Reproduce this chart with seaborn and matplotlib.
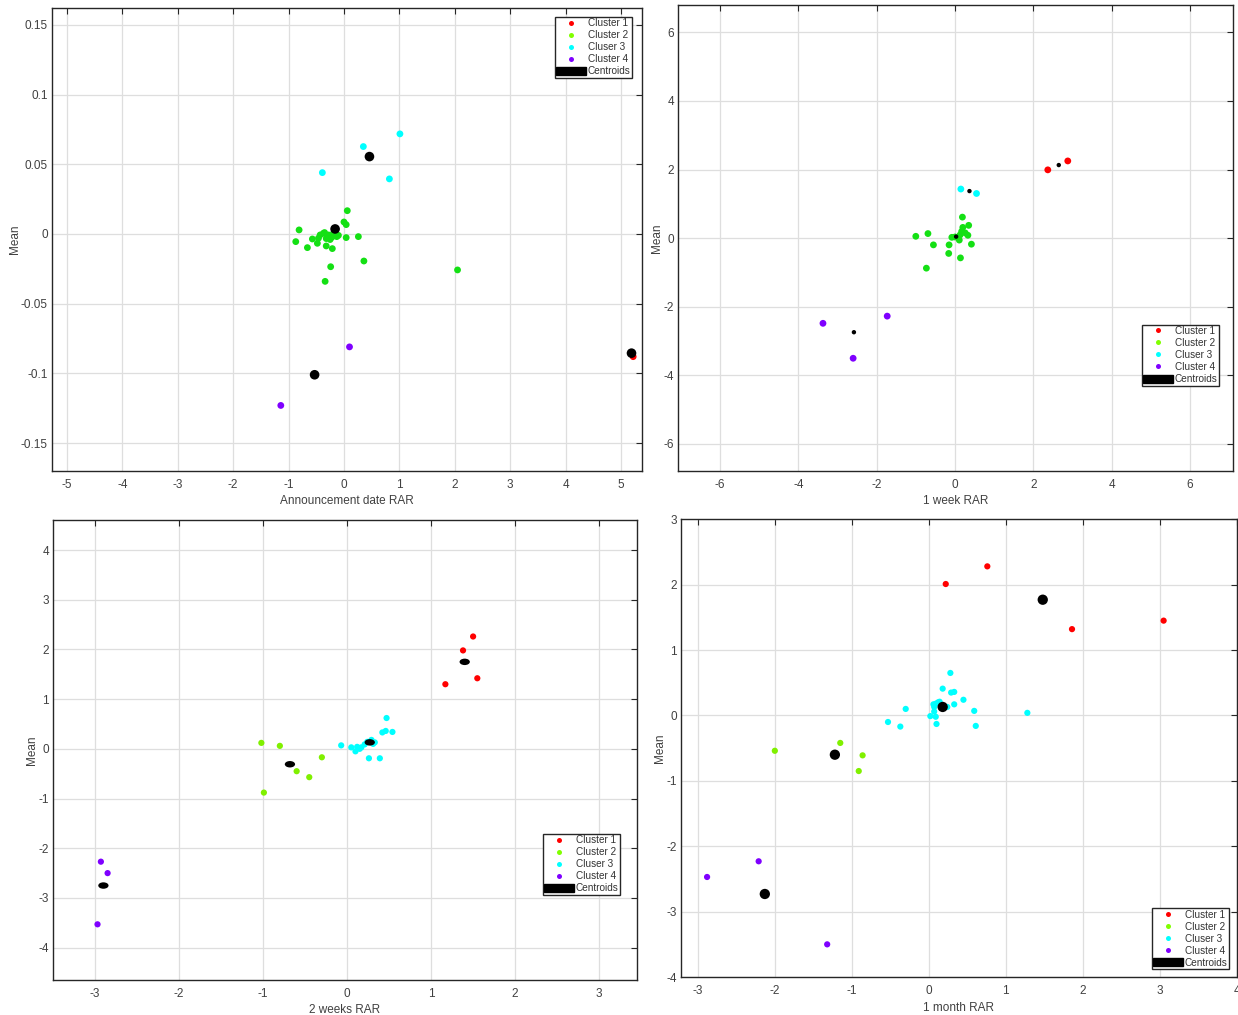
import numpy as np
import pandas as pd
import seaborn as sns
import matplotlib
matplotlib.use("Agg")
import matplotlib.pyplot as plt
from matplotlib.lines import Line2D
from matplotlib.patches import Patch
from matplotlib.path import Path
from matplotlib.transforms import Affine2D

# ---------------- data ----------------
cluster_labels = ["Cluster 1", "Cluster 2", "Cluser 3", "Cluster 4", "Centroids"]

# Panel 1: Announcement date RAR
p1_c1_x = [5.22]
p1_c1_y = [-0.088]
p1_c2_x = [0.06, 0.00, 0.04, -0.81, 0.04, 0.26, -0.87, -0.57, -0.66, -0.48, -0.32, -0.21,
           -0.24, -0.34, 0.36, 2.05, -0.43, -0.37, -0.28, -0.22, -0.13, -0.32, -0.19, -0.46,
           -0.25, -0.10, -0.35]
p1_c2_y = [0.0167, 0.0086, 0.0067, 0.0029, -0.0026, -0.0019, -0.0055, -0.0036, -0.0098,
           -0.0067, -0.0086, -0.0105, -0.0235, -0.034, -0.0194, -0.0258, -0.0007, 0.0005,
           -0.0007, -0.0024, -0.0019, -0.0033, 0.0005, -0.0030, -0.0040, -0.0010, 0.0010]
p1_c3_x = [1.01, 0.35, -0.39, 0.82]
p1_c3_y = [0.0718, 0.0627, 0.044, 0.0395]
p1_c4_x = [0.10, -1.14]
p1_c4_y = [-0.081, -0.123]
p1_cen_x = [5.19, -0.16, 0.46, -0.53]
p1_cen_y = [-0.0855, 0.0036, 0.0555, -0.101]

# Panel 2: 1 week RAR
p2_c1_x = [2.37, 2.88]
p2_c1_y = [1.99, 2.25]
p2_c2_x = [0.19, 0.35, 0.20, -1.00, -0.69, -0.55, -0.15, -0.16, 0.14, -0.73, 0.42, 0.33,
           0.11, -0.08, 0.26, 0.17, 0.13, 0.00]
p2_c2_y = [0.61, 0.37, 0.31, 0.05, 0.13, -0.20, -0.20, -0.45, -0.58, -0.88, -0.18, 0.08,
           -0.06, 0.02, 0.15, 0.19, 0.09, 0.03]
p2_c3_x = [0.15, 0.55]
p2_c3_y = [1.43, 1.30]
p2_c4_x = [-3.37, -2.60, -1.73]
p2_c4_y = [-2.49, -3.51, -2.28]
p2_cen_x = [2.65, 0.03, 0.37, -2.58]
p2_cen_y = [2.13, 0.04, 1.37, -2.75]

# Panel 3: 2 weeks RAR
p3_c1_x = [1.17, 1.38, 1.50, 1.55]
p3_c1_y = [1.30, 1.98, 2.26, 1.42]
p3_c2_x = [-1.02, -0.80, -0.30, -0.60, -0.45, -0.99]
p3_c2_y = [0.12, 0.06, -0.17, -0.45, -0.57, -0.88]
p3_c3_x = [0.47, 0.42, 0.46, 0.54, -0.07, 0.05, 0.10, 0.12, 0.17, 0.21, 0.29, 0.33, 0.26,
           0.39, 0.15, 0.31, 0.24]
p3_c3_y = [0.62, 0.33, 0.36, 0.34, 0.07, 0.03, -0.05, 0.04, 0.03, 0.09, 0.18, 0.13, -0.19,
           -0.19, 0.00, 0.10, 0.14]
p3_c4_x = [-2.93, -2.85, -2.97]
p3_c4_y = [-2.27, -2.50, -3.53]
p3_cen_x = [1.40, -0.68, 0.27, -2.90]
p3_cen_y = [1.75, -0.31, 0.13, -2.75]

# Panel 4: 1 month RAR
p4_c1_x = [0.22, 0.76, 1.86, 3.05]
p4_c1_y = [2.01, 2.28, 1.32, 1.45]
p4_c2_x = [-2.00, -1.15, -0.86, -0.91]
p4_c2_y = [-0.54, -0.42, -0.61, -0.85]
p4_c3_x = [0.28, 0.18, 0.29, 0.33, 0.45, 0.33, -0.30, -0.53, -0.37, 0.02, 0.10, 0.59, 0.61,
           0.07, 0.09, 0.12, 0.07, 0.09, 0.24, 1.28, 0.14, 0.06]
p4_c3_y = [0.65, 0.41, 0.35, 0.36, 0.24, 0.17, 0.10, -0.10, -0.17, -0.01, -0.13, 0.07, -0.16,
           0.13, 0.18, 0.20, 0.06, -0.02, 0.13, 0.04, 0.21, 0.17]
p4_c4_x = [-2.88, -2.21, -1.32]
p4_c4_y = [-2.47, -2.23, -3.50]
p4_cen_x = [1.48, -1.22, 0.18, -2.13]
p4_cen_y = [1.77, -0.60, 0.13, -2.73]

x_labels = ["Announcement date RAR", "1 week RAR", "2 weeks RAR", "1 month RAR"]
y_label = "Mean"

p1_yticks = [0.15, 0.1, 0.05, 0, -0.05, -0.1, -0.15]
p1_yticklabels = ["0.15", "0.1", "0.05", "0", "-0.05", "-0.1", "-0.15"]

# ---------------- style ----------------
sns.set_style("white")
plt.rcParams["font.family"] = ["Liberation Sans", "DejaVu Sans"]
plt.rcParams["axes.unicode_minus"] = False

RED = "#ff0000"
GREEN_A = "#14e014"
GREEN_B = "#80f000"
CYAN = "#00ffff"
PURPLE = "#7f00ff"
LEG_COLORS = ["#ff0000", "#80ff00", "#00ffff", "#7f00ff"]
AX_COLOR = "#262626"
TXT_COLOR = "#404040"

fig = plt.figure(figsize=(12.38, 10.15), dpi=100)

positions = [
    [0.042, 0.536, 0.4766, 0.456],
    [0.5477, 0.536, 0.448, 0.459],
    [0.0428, 0.0345, 0.4717, 0.453],
    [0.550, 0.0374, 0.449, 0.451],
]

ellipse_marker = Path.unit_circle().transformed(Affine2D().scale(1.6, 1.0))


def make_df(xs, ys, name):
    return pd.DataFrame({"x": xs, "y": ys, "cluster": name})


def draw_panel(ax, clusters, colors, cen_x, cen_y, cen_size, cen_marker, pt_size):
    frames = [make_df(cx, cy, cluster_labels[i]) for i, (cx, cy) in enumerate(clusters)]
    df = pd.concat(frames, ignore_index=True)
    palette = {cluster_labels[i]: colors[i] for i in range(4)}
    sns.scatterplot(data=df, x="x", y="y", hue="cluster", palette=palette, s=pt_size,
                    edgecolor="none", linewidth=0, legend=False, ax=ax, zorder=3)
    cdf = pd.DataFrame({"x": cen_x, "y": cen_y})
    sns.scatterplot(data=cdf, x="x", y="y", color="black", s=cen_size, marker=cen_marker,
                    edgecolor="none", linewidth=0, legend=False, ax=ax, zorder=4)


def style_axes(ax, xlim, ylim, xticks, yticks, xlabel, ytl=None):
    ax.set_xlim(*xlim)
    ax.set_ylim(*ylim)
    ax.set_xticks(xticks)
    ax.set_yticks(yticks)
    ax.set_xticklabels([f"{t:g}" for t in xticks])
    if ytl is None:
        ax.set_yticklabels([f"{t:g}" for t in yticks])
    else:
        ax.set_yticklabels(ytl)
    ax.grid(True, color="#dedede", linewidth=0.9)
    ax.set_axisbelow(True)
    for sp in ax.spines.values():
        sp.set_visible(True)
        sp.set_color(AX_COLOR)
        sp.set_linewidth(1.0)
    ax.tick_params(direction="in", length=4, width=0.8, color=AX_COLOR,
                   top=True, right=True, labelsize=8.5, labelcolor=TXT_COLOR)
    ax.tick_params(axis="x", pad=6)
    ax.tick_params(axis="y", pad=3)
    ax.set_xlabel(xlabel, fontsize=8.5, color=TXT_COLOR, labelpad=3)
    ax.set_ylabel(y_label, fontsize=8.5, color=TXT_COLOR, labelpad=0)


def add_legend(ax, loc, anchor):
    handles = [Line2D([], [], linestyle="none", marker="o", markersize=3.6,
                      markerfacecolor=c, markeredgecolor="none") for c in LEG_COLORS]
    handles.append(Patch(facecolor="black", edgecolor="black"))
    leg = ax.legend(handles, cluster_labels, loc=loc, bbox_to_anchor=anchor,
                    fontsize=7.2, frameon=True, fancybox=False, framealpha=1,
                    edgecolor=AX_COLOR, borderpad=0.15, labelspacing=0.2,
                    handlelength=3.0, handleheight=0.9, handletextpad=0.15,
                    borderaxespad=0.0)
    leg.get_frame().set_linewidth(1.0)
    for t in leg.get_texts():
        t.set_color("#333333")


axes = [fig.add_axes(p) for p in positions]

# Panel 1
draw_panel(axes[0], [(p1_c1_x, p1_c1_y), (p1_c2_x, p1_c2_y), (p1_c3_x, p1_c3_y), (p1_c4_x, p1_c4_y)],
           [RED, GREEN_A, CYAN, PURPLE], p1_cen_x, p1_cen_y, 48, "o", 24)
style_axes(axes[0], (-5.27, 5.38), (-0.170, 0.162), list(range(-5, 6)), p1_yticks,
           x_labels[0], p1_yticklabels)
add_legend(axes[0], "upper right", (0.983, 0.981))

# Panel 2
draw_panel(axes[1], [(p2_c1_x, p2_c1_y), (p2_c2_x, p2_c2_y), (p2_c3_x, p2_c3_y), (p2_c4_x, p2_c4_y)],
           [RED, GREEN_A, CYAN, PURPLE], p2_cen_x, p2_cen_y, 10, "o", 24)
style_axes(axes[1], (-7.07, 7.09), (-6.8, 6.8), list(range(-6, 7, 2)), list(range(-6, 7, 2)),
           x_labels[1])
add_legend(axes[1], "lower right", (0.975, 0.183))

# Panel 3
draw_panel(axes[2], [(p3_c1_x, p3_c1_y), (p3_c2_x, p3_c2_y), (p3_c3_x, p3_c3_y), (p3_c4_x, p3_c4_y)],
           [RED, GREEN_B, CYAN, PURPLE], p3_cen_x, p3_cen_y, 55, ellipse_marker, 20)
style_axes(axes[2], (-3.5, 3.45), (-4.65, 4.6), list(range(-3, 4)), list(range(-4, 5)),
           x_labels[2])
add_legend(axes[2], "lower right", (0.971, 0.185))

# Panel 4
draw_panel(axes[3], [(p4_c1_x, p4_c1_y), (p4_c2_x, p4_c2_y), (p4_c3_x, p4_c3_y), (p4_c4_x, p4_c4_y)],
           [RED, GREEN_B, CYAN, PURPLE], p4_cen_x, p4_cen_y, 55, "o", 20)
style_axes(axes[3], (-3.22, 4.0), (-4.0, 3.0), list(range(-3, 5)), list(range(-4, 4)),
           x_labels[3])
add_legend(axes[3], "lower right", (0.986, 0.017))

fig.savefig("out.png", dpi=100, facecolor="white")
